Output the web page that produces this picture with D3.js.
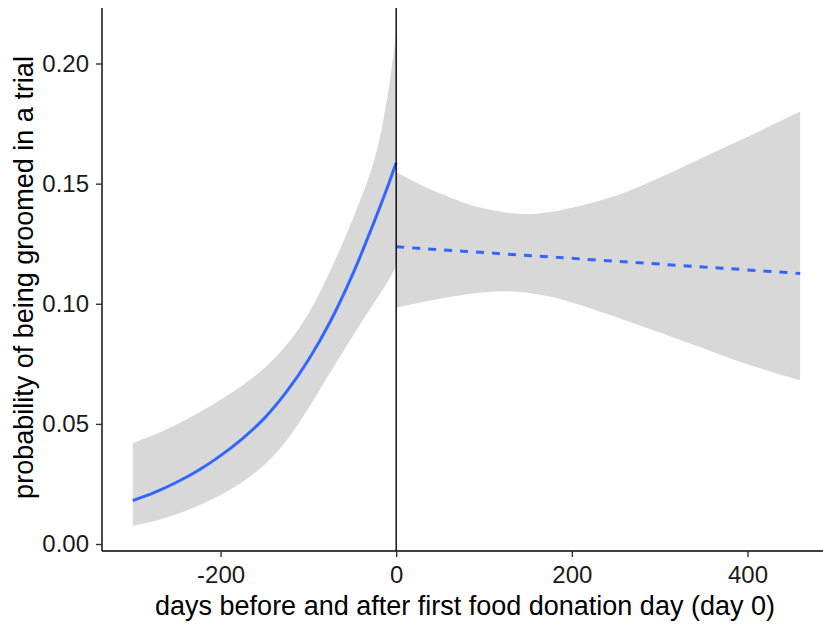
<!DOCTYPE html>
<html>
<head>
<meta charset="utf-8">
<script src="https://cdn.jsdelivr.net/npm/d3@7"></script>
<style>
  body { margin: 0; background: #fff; }
  svg { display: block; }
  .axis text { font-family: "Liberation Sans", Arial, sans-serif; }
</style>
</head>
<body>
<div id="chart"></div>
<script>
// days before first food donation (fitted curve + 95% band)
const preDays  = [-300, -275, -250, -225, -200, -175, -150, -125, -100, -75, -50, -25, -10, 0];
const preFit   = [0.0181, 0.0215, 0.0257, 0.0307, 0.0368, 0.0439, 0.0524, 0.0633, 0.0766, 0.0926, 0.1119, 0.1342, 0.1485, 0.1587];
const preLower = [0.0076, 0.0096, 0.0124, 0.0160, 0.0204, 0.0258, 0.0330, 0.0430, 0.0565, 0.0715, 0.0862, 0.1005, 0.1090, 0.1157];
const preUpper = [0.0420, 0.0456, 0.0498, 0.0546, 0.0600, 0.0661, 0.0733, 0.0828, 0.0958, 0.1138, 0.1348, 0.1598, 0.1860, 0.2125];

// days after first food donation
const postDays  = [0, 25, 50, 75, 100, 125, 150, 175, 200, 250, 300, 350, 400, 460];
const postFit   = [0.1237, 0.1231, 0.1225, 0.1219, 0.1213, 0.1207, 0.1201, 0.1195, 0.1189, 0.1177, 0.1165, 0.1153, 0.1141, 0.1126];
const postLower = [0.0984, 0.1003, 0.1021, 0.1036, 0.1048, 0.1052, 0.1046, 0.1030, 0.1005, 0.0945, 0.0880, 0.0814, 0.0748, 0.0682];
const postUpper = [0.1548, 0.1500, 0.1460, 0.1423, 0.1397, 0.1380, 0.1373, 0.1382, 0.1400, 0.1450, 0.1525, 0.1610, 0.1695, 0.1800];

const xTicks = [-200, 0, 200, 400];
const yTicks = [0, 0.05, 0.10, 0.15, 0.20];

const width = 823, height = 624;
const margin = {top: 8, right: 0, bottom: 73, left: 102};

const svg = d3.select('#chart').append('svg')
  .attr('width', width)
  .attr('height', height);

const x = d3.scaleLinear()
  .domain([-335, 486])
  .range([margin.left, width - margin.right]);

const y = d3.scaleLinear()
  .domain([-0.0029, 0.2231])
  .range([height - margin.bottom, margin.top]);

const pre = preDays.map((d, i) => ({d, fit: preFit[i], lo: preLower[i], hi: preUpper[i]}));
const post = postDays.map((d, i) => ({d, fit: postFit[i], lo: postLower[i], hi: postUpper[i]}));

const band = d3.area()
  .x(d => x(d.d))
  .y0(d => y(d.lo))
  .y1(d => y(d.hi))
  .curve(d3.curveCatmullRom.alpha(0.5));

const line = d3.line()
  .x(d => x(d.d))
  .y(d => y(d.fit))
  .curve(d3.curveCatmullRom.alpha(0.5));

svg.selectAll('path.band')
  .data([pre, post])
  .enter()
  .append('path')
  .attr('class', 'band')
  .attr('d', band)
  .attr('fill', '#d8d8d8');

svg.append('path')
  .attr('d', line(pre))
  .attr('fill', 'none')
  .attr('stroke', '#3366ff')
  .attr('stroke-width', 3);

svg.append('path')
  .attr('d', line(post))
  .attr('fill', 'none')
  .attr('stroke', '#3366ff')
  .attr('stroke-width', 3)
  .attr('stroke-dasharray', '8,8');

// vertical line at day 0
svg.append('line')
  .attr('x1', x(0)).attr('x2', x(0))
  .attr('y1', margin.top).attr('y2', height - margin.bottom)
  .attr('stroke', '#000')
  .attr('stroke-width', 1.4);

const xAxis = svg.append('g')
  .attr('class', 'axis')
  .attr('transform', `translate(0,${height - margin.bottom})`)
  .call(d3.axisBottom(x).tickValues(xTicks).tickSize(6).tickPadding(9).tickFormat(d => d < 0 ? '-' + Math.abs(d) : d));

const yAxis = svg.append('g')
  .attr('class', 'axis')
  .attr('transform', `translate(${margin.left},0)`)
  .call(d3.axisLeft(y).tickValues(yTicks).tickSize(6).tickPadding(7).tickFormat(d3.format('.2f')));

[xAxis, yAxis].forEach(g => {
  g.select('.domain').attr('stroke', '#000').attr('stroke-width', 1.4);
  g.selectAll('.tick line').attr('stroke', '#333').attr('stroke-width', 1.4);
  g.selectAll('.tick text').attr('fill', '#1a1a1a').style('font-size', '24px');
});

// ggplot-style: axis lines span the full panel
xAxis.select('.domain').attr('d', `M${margin.left},0H${width}`);
yAxis.select('.domain').attr('d', `M0,${margin.top}V${height - margin.bottom}`);

svg.append('text')
  .attr('x', 465)
  .attr('y', 615)
  .attr('text-anchor', 'middle')
  .style('font-family', '"Liberation Sans", Arial, sans-serif')
  .style('font-size', '27px')
  .attr('fill', '#000')
  .text('days before and after first food donation day (day 0)');

svg.append('text')
  .attr('transform', `translate(33,${(margin.top + height - margin.bottom) / 2 - 2}) rotate(-90)`)
  .attr('text-anchor', 'middle')
  .style('font-family', '"Liberation Sans", Arial, sans-serif')
  .style('font-size', '27px')
  .attr('fill', '#000')
  .text('probability of being groomed in a trial');
</script>
</body>
</html>
